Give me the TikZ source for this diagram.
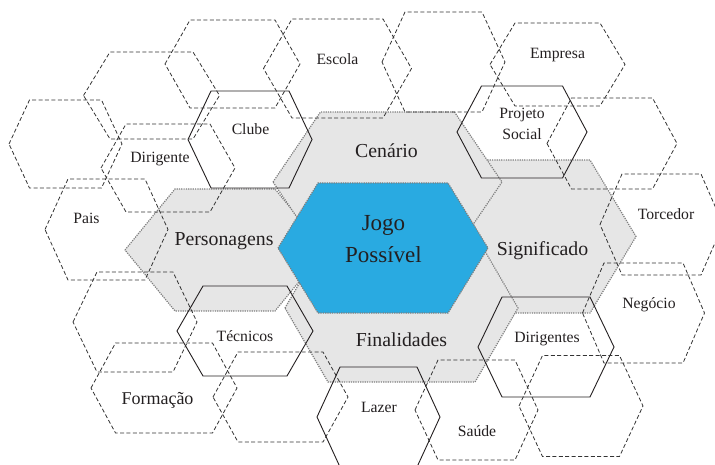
\documentclass[tikz,border=0pt]{standalone}
\usepackage{fontspec}
\setmainfont{Liberation Serif}
\definecolor{txt}{HTML}{231F20}
\definecolor{grayfill}{HTML}{E6E6E6}
\definecolor{dotcol}{HTML}{7E7E7E}
\definecolor{bluefill}{HTML}{29AAE1}
\definecolor{dashcol}{HTML}{333333}
\definecolor{solidcol}{HTML}{231F20}
% #1 style, #2 cx, #3 cy, #4 half-width, #5 top half-length, #6 half-height
\newcommand{\hexshape}[6]{%
  \draw[#1] ({#2-#4},{#3}) -- ({#2-#5},{#3-#6}) -- ({#2+#5},{#3-#6}) --
    ({#2+#4},{#3}) -- ({#2+#5},{#3+#6}) -- ({#2-#5},{#3+#6}) -- cycle;}
\tikzset{
  grayhex/.style={fill=grayfill, draw=dotcol, line width=1.2pt, dash pattern=on 1.2pt off 1.1pt},
  bluehex/.style={fill=bluefill, draw=dotcol, line width=1.2pt, dash pattern=on 1.2pt off 1.1pt},
  solidhex/.style={draw=solidcol, line width=0.9pt},
  dashhex/.style={draw=dashcol, line width=0.8pt, dash pattern=on 4pt off 2.4pt},
  small/.style={anchor=base, text=txt, font=\fontsize{15.7}{18}\selectfont, inner sep=0pt},
  mid/.style={anchor=base, text=txt, font=\fontsize{19.8}{22}\selectfont, inner sep=0pt},
  big/.style={anchor=base, text=txt, font=\fontsize{23}{26}\selectfont, inner sep=0pt}
}
\begin{document}
\begin{tikzpicture}[x=1pt,y=-1pt]
\useasboundingbox (0,0) rectangle (715,465);
\begin{scope}
\clip (0,0) rectangle (715,465);
% gray hexagons
\hexshape{grayhex}{538.5}{236.5}{97.5}{51.5}{76.5}
\hexshape{grayhex}{225}{250}{100}{50}{61}
\hexshape{grayhex}{401.5}{308}{116.5}{73.5}{74}
\hexshape{grayhex}{387.5}{182}{114.5}{67}{70}
% blue centre
\hexshape{bluehex}{383}{248}{105}{65}{65}
% solid hexagons
\hexshape{solidhex}{250}{139.5}{62}{39}{48.5}
\hexshape{solidhex}{522}{132}{65}{40.5}{46}
\hexshape{solidhex}{245}{331}{68}{42}{45}
\hexshape{solidhex}{546}{347}{68}{44}{50}
\hexshape{solidhex}{378.5}{417}{61.5}{38.5}{50}
% dashed hexagons
\hexshape{dashhex}{232.5}{64}{67.5}{42.5}{44}
\hexshape{dashhex}{337.5}{68.5}{74}{45.5}{49.5}
\hexshape{dashhex}{443.5}{62}{61.5}{38.5}{50}
\hexshape{dashhex}{557.5}{64.5}{67.5}{42.5}{41.5}
\hexshape{dashhex}{151.5}{95.5}{68}{41.5}{43.5}
\hexshape{dashhex}{65.5}{144}{56.5}{36}{44}
\hexshape{dashhex}{168}{168}{67}{42}{44}
\hexshape{dashhex}{106.5}{229.5}{61.5}{38.5}{50.5}
\hexshape{dashhex}{612}{143.5}{65}{40.5}{45.5}
\hexshape{dashhex}{661.5}{224.5}{61.5}{39.5}{50.5}
\hexshape{dashhex}{643.5}{313}{61}{39.5}{50}
\hexshape{dashhex}{581}{406}{62}{38.5}{50.5}
\hexshape{dashhex}{476.5}{410}{61.5}{38.5}{50}
\hexshape{dashhex}{135}{322}{62}{38}{50}
\hexshape{dashhex}{164}{388}{73}{48.5}{45}
\hexshape{dashhex}{280.5}{397}{67.5}{42.5}{45}
\end{scope}
% labels
\node[small] (escola) at (337.5,65) {Escola};
\node[small] (empresa) at (557.5,59) {Empresa};
\node[small] (clube) at (250.5,135) {Clube};
\node[small] (dirigente) at (160,163) {Dirigente};
\node[small] (pais) at (86.5,224) {Pais};
\node[small] (projeto) at (522,119) {Projeto};
\node[small] (social) at (522,140) {Social};
\node[small] (torcedor) at (666,220) {Torcedor};
\node[small] (negocio) at (649,308) {Negócio};
\node[small] (dirigentes) at (547,342) {Dirigentes};
\node[small] (saude) at (477,436) {Saúde};
\node[small] (lazer) at (379,412) {Lazer};
\node[small] (tecnicos) at (245,341) {Técnicos};
\node[anchor=base, text=txt, font=\fontsize{18}{20}\selectfont, inner sep=0pt] (formacao) at (157.5,404) {Formação};
\node[mid] (cenario) at (386.5,158) {Cenário};
\node[mid] (personagens) at (224,246) {Personagens};
\node[mid] (significado) at (542.5,255) {Significado};
\node[mid] (finalidades) at (401.5,346.5) {Finalidades};
\node[big] (jogo) at (383.5,230.5) {Jogo};
\node[big] (possivel) at (383.5,262) {Possível};
\end{tikzpicture}
\end{document}
